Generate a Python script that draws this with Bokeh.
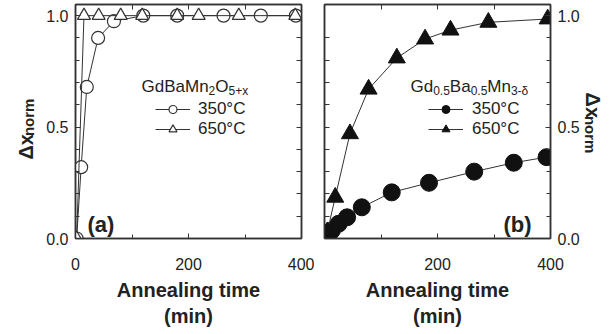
import math
from bokeh.plotting import figure
from bokeh.models import (Range1d, LinearAxis, Label, Legend, LegendItem,
                          FixedTicker)
from bokeh.core.properties import value
from bokeh.layouts import row
from bokeh.embed import file_html
from bokeh.resources import INLINE

# ---------------- data ----------------
# (a) GdBaMn2O5+x
a_t350 = [2, 10, 20, 40, 68, 120, 180, 262, 328, 390]
a_x350 = [0.0, 0.32, 0.68, 0.90, 0.975, 1.0, 1.0, 1.0, 1.0, 1.0]
a_t650 = [2, 15, 41, 80, 118, 180, 218, 289, 389]
a_x650 = [0.0, 1.0, 1.0, 1.0, 1.0, 1.0, 1.0, 1.0, 1.0]
# (b) Gd0.5Ba0.5Mn3-d
b_t350 = [2, 7, 13, 25, 40, 66, 119, 185, 265, 335, 393]
b_x350 = [0.0, 0.013, 0.036, 0.066, 0.095, 0.14, 0.207, 0.25, 0.30, 0.34, 0.365]
b_t650 = [5, 19, 45, 78, 128, 178, 223, 290, 395]
b_x650 = [0.03, 0.185, 0.47, 0.67, 0.81, 0.895, 0.935, 0.97, 0.985]

legend_labels = ["350°C", "650°C"]
x_label = "Annealing time\n(min)"
y_title = ["Δx", "norm"]
x_major = [0, 200, 400]
x_minor = [100, 300]
y_major = [0, 0.5, 1.0]
y_minor = [0.1, 0.2, 0.3, 0.4, 0.6, 0.7, 0.8, 0.9]

FONT = "Liberation Sans"
TXT = "#222222"
LN = "#333333"
YMAX = 1.05
H = 334

# approximate Arial/Liberation advance widths (em)
W = {'G': .778, 'd': .556, 'B': .667, 'a': .556, 'M': .833, 'n': .556,
     'O': .778, '+': .584, 'x': .5, '.': .278, '-': .333, 'δ': .556}
for c in "0123456789":
    W[c] = .556


def tw(s, size):
    return sum(W.get(c, .556) for c in s) * size


def rich(p, pieces, sx, sy, size=17, sub=12, drop=4):
    """pieces placed in screen units relative to frame bottom-left"""
    off = 0.0
    for txt, is_sub in pieces:
        fs = sub if is_sub else size
        p.add_layout(Label(x=sx + off, y=sy - (drop if is_sub else 0),
                           x_units="screen", y_units="screen",
                           text=txt, text_font=FONT, text_font_size=f"{fs}px",
                           text_color=TXT, text_baseline="alphabetic",
                           text_align="left"))
        off += tw(txt, fs)


def style_axis(ax, labels=True):
    ax.axis_line_color = LN
    ax.axis_line_width = 1.5
    ax.major_tick_line_color = LN
    ax.minor_tick_line_color = LN
    ax.major_tick_in = 5
    ax.major_tick_out = 0
    ax.minor_tick_in = 4
    ax.minor_tick_out = 0
    if labels:
        ax.major_label_text_font = FONT
        ax.major_label_text_font_size = "16px"
        ax.major_label_text_color = TXT
    else:
        ax.minor_tick_in = 5
        ax.major_label_standoff = 0


def make_fig(left, right, yloc, xticks):
    p = figure(frame_width=226, frame_height=234, x_range=Range1d(0, 400),
               y_range=Range1d(0, YMAX), output_backend="svg",
               toolbar_location=None, y_axis_location=yloc,
               min_border_left=left, min_border_right=right,
               min_border_top=4, min_border_bottom=96)
    p.grid.visible = False
    p.outline_line_color = LN
    p.outline_line_width = 1.5
    p.background_fill_color = "white"
    p.border_fill_color = "white"
    p.xaxis.ticker = FixedTicker(ticks=xticks, minor_ticks=x_minor)
    p.yaxis.ticker = FixedTicker(ticks=y_major, minor_ticks=y_minor)
    p.xaxis.axis_label = x_label
    p.xaxis.axis_label_text_font = FONT
    p.xaxis.axis_label_text_font_style = "bold"
    p.xaxis.axis_label_text_font_size = "20px"
    p.xaxis.axis_label_text_color = TXT
    p.xaxis.axis_label_standoff = 6
    p.xaxis.major_label_standoff = 19
    p.yaxis.major_label_standoff = 7
    p.yaxis.major_label_overrides = {0: "0.0", 0.5: "0.5", 1.0: "1.0"}
    for ax in p.xaxis + p.yaxis:
        style_axis(ax)
    # tick-only mirror axes (no labels): all ticks as minor ticks
    top = LinearAxis(ticker=FixedTicker(ticks=[], minor_ticks=x_minor + [200]))
    style_axis(top, labels=False)
    p.add_layout(top, "above")
    side = LinearAxis(ticker=FixedTicker(ticks=[], minor_ticks=y_minor + [0.5]))
    style_axis(side, labels=False)
    p.add_layout(side, "left" if yloc == "right" else "right")
    return p


def label_strip(width, x0, y0, angle, sub_dx):
    """narrow figure (data units = pixels) holding the rotated 'Δx_norm' title"""
    f = figure(frame_width=width, frame_height=H, x_range=Range1d(0, width),
               y_range=Range1d(0, H), x_axis_type=None, y_axis_type=None,
               output_backend="svg", toolbar_location=None, min_border=0)
    f.outline_line_color = None
    f.border_fill_color = "white"
    f.background_fill_color = "white"
    d = 1 if angle > 0 else -1
    f.text(x=[x0], y=[y0], text=[y_title[0]], angle=angle,
           text_font=value(FONT), text_font_style="bold",
           text_font_size="20px", text_color=TXT, text_baseline="alphabetic",
           text_align="left")
    f.text(x=[x0 + sub_dx], y=[y0 + d * 23.4], text=[y_title[1]], angle=angle,
           text_font=value(FONT), text_font_style="bold",
           text_font_size="15px", text_color=TXT, text_baseline="alphabetic",
           text_align="left")
    return f


# ---------------- panel (a) ----------------
lab_a = label_strip(36, 25, H - 155, math.pi / 2, 3)
pa = make_fig(39, 13, "left", x_major)
la = pa.line(a_t350, a_x350, line_color=LN, line_width=1)
ma = pa.scatter(a_t350, a_x350, marker="circle", size=13, line_color=LN,
                line_width=1.2, fill_color="white")
lb = pa.line(a_t650, a_x650, line_color=LN, line_width=1)
mb = pa.scatter(a_t650, a_x650, marker="triangle", size=13, line_color=LN,
                line_width=1.2, fill_color="white")
leg_a = Legend(items=[LegendItem(label=legend_labels[0], renderers=[la, ma]),
                      LegendItem(label=legend_labels[1], renderers=[lb, mb])],
               location=(80, 99), glyph_width=35, glyph_height=20,
               label_height=20, label_standoff=8, spacing=0, padding=0,
               margin=0, border_line_alpha=0, background_fill_alpha=0,
               label_text_font=FONT, label_text_font_size="17px",
               label_text_color=TXT)
pa.add_layout(leg_a)
rich(pa, [("GdBaMn", False), ("2", True), ("O", False), ("5+x", True)],
     sx=66, sy=152)
pa.add_layout(Label(x=12, y=14, x_units="screen", y_units="screen", text="(a)",
                    text_font=FONT, text_font_style="bold", text_font_size="22px",
                    text_color=TXT, text_baseline="alphabetic"))

# ---------------- panel (b) ----------------
pb = make_fig(10, 30, "right", [200, 400])
lc = pb.line(b_t350, b_x350, line_color=LN, line_width=1)
mc = pb.scatter(b_t350, b_x350, marker="circle", size=17, line_color="#111111",
                fill_color="#111111")
ld = pb.line(b_t650, b_x650, line_color=LN, line_width=1)
md = pb.scatter(b_t650, b_x650, marker="triangle", size=17, line_color="#111111",
                fill_color="#111111")
leg_b = Legend(items=[LegendItem(label=legend_labels[0], renderers=[lc, mc]),
                      LegendItem(label=legend_labels[1], renderers=[ld, md])],
               location=(104, 99), glyph_width=35, glyph_height=20,
               label_height=20, label_standoff=9, spacing=0, padding=0,
               margin=0, border_line_alpha=0, background_fill_alpha=0,
               label_text_font=FONT, label_text_font_size="17px",
               label_text_color=TXT)
pb.add_layout(leg_b)
rich(pb, [("Gd", False), ("0.5", True), ("Ba", False), ("0.5", True),
          ("Mn", False), ("3-δ", True)], sx=86, sy=152)
pb.add_layout(Label(x=179, y=14, x_units="screen", y_units="screen", text="(b)",
                    text_font=FONT, text_font_style="bold", text_font_size="22px",
                    text_color=TXT, text_baseline="alphabetic"))
lab_b = label_strip(34, 10, H - 88, -math.pi / 2, -2)

layout = row(lab_a, pa, pb, lab_b, spacing=0)
open("out.html", "w").write(file_html(layout, INLINE))
